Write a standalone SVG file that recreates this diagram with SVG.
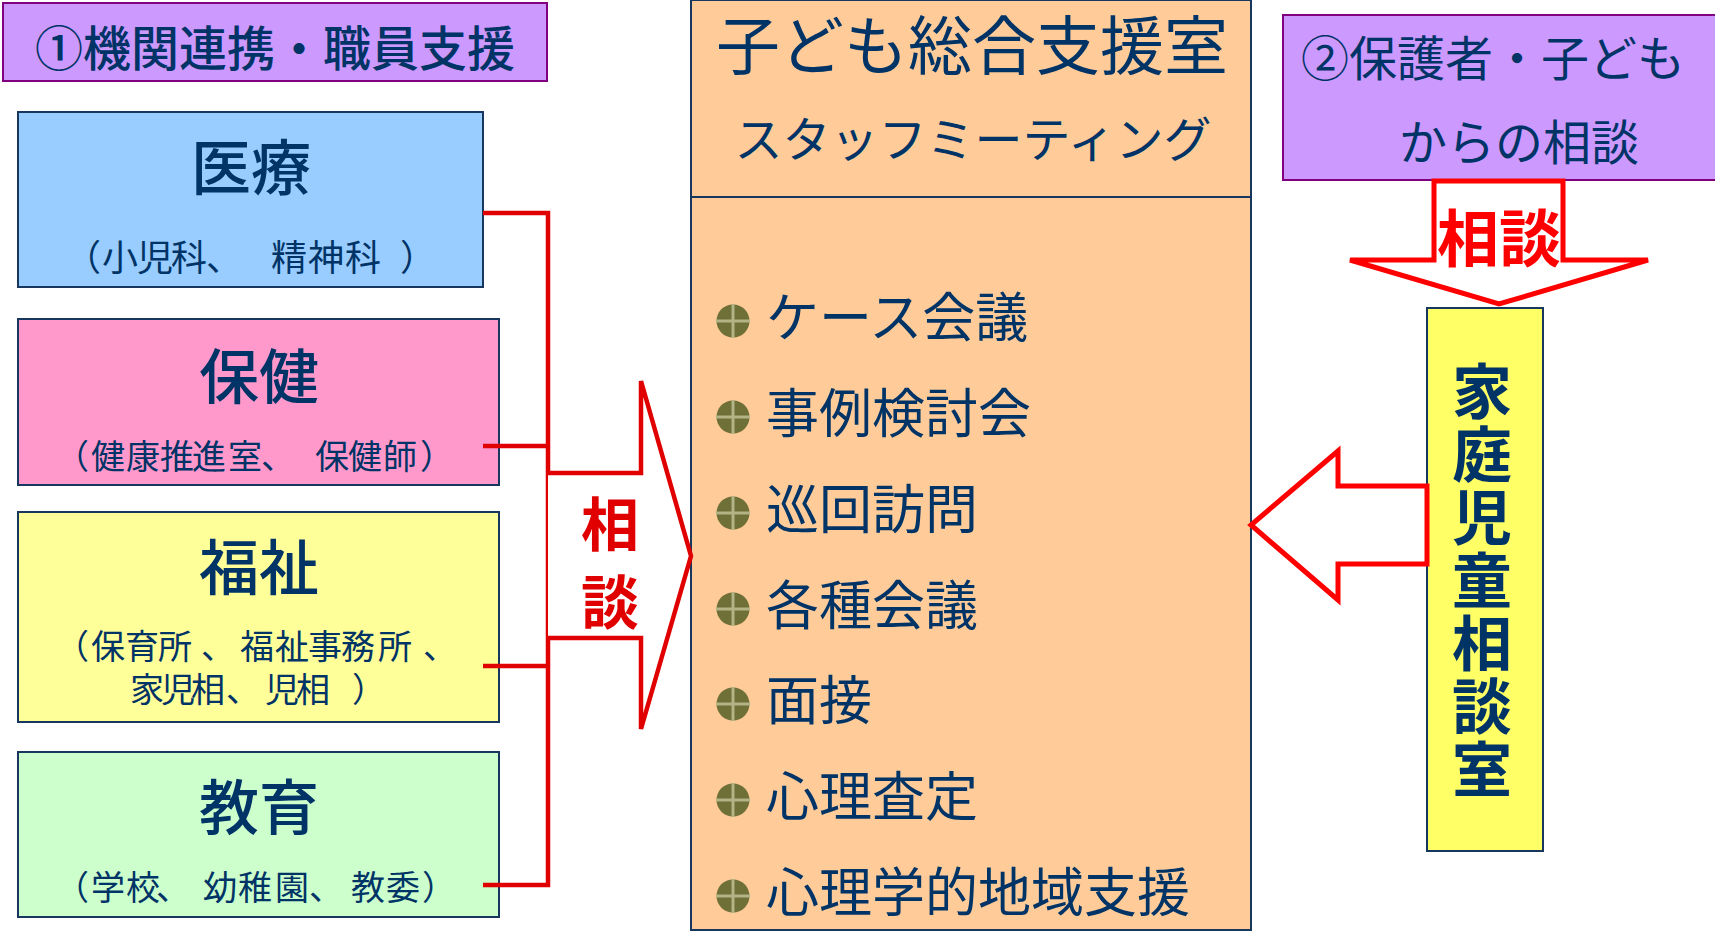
<svg xmlns="http://www.w3.org/2000/svg" xmlns:xlink="http://www.w3.org/1999/xlink" width="1715" height="933" viewBox="0 0 1715 933">
<defs>
<style>
.t{font-family:"Noto Sans CJK JP","Noto Sans",sans-serif;fill:#003366;}
.c{text-anchor:middle;}
.box{stroke:#17375E;stroke-width:2;}
.pbox{fill:#CC99FF;stroke:#800080;stroke-width:2;}
.title{font-size:60px;font-weight:500;}
.sub{font-size:34px;}
.item{font-size:53px;}
.red1{fill:none;stroke:#E00000;stroke-width:4.5;}
.red2{fill:#FFFFFF;stroke:#FF0000;stroke-width:5;}
</style>
<symbol id="bul" viewBox="-17 -17 34 34" overflow="visible">
<circle r="16.5" fill="#6F6F38"/>
<path d="M-17 0H17M0 -17V17" stroke="#B3B386" stroke-width="3"/>
</symbol>
</defs>
<rect width="1715" height="933" fill="#FFFFFF"/>

<g id="label-kikan">
<rect class="pbox" x="3" y="3" width="544" height="78"/>
<text class="t c" x="275" y="66" font-size="48" font-weight="500">①機関連携・職員支援</text>
</g>

<g id="node-iryo">
<rect class="box" x="18" y="112" width="465" height="175" fill="#99CCFF"/>
<text class="t c title" x="251" y="190">医療</text>
<text class="t" x="65 102 137 171 206 271 308 345 400" y="271" font-size="36">（小児科、精神科）</text>
</g>

<g id="node-hoken">
<rect class="box" x="18" y="319" width="481" height="166" fill="#FF99CC"/>
<text class="t c title" x="259" y="399">保健</text>
<text class="t sub" x="55 91 126 160 192 228 261 315 348 383 420" y="469">（健康推進室、保健師）</text>
</g>

<g id="node-fukushi">
<rect class="box" x="18" y="512" width="481" height="210" fill="#FFFF99"/>
<text class="t c title" x="259" y="590">福祉</text>
<text class="t sub" x="55 91 125 158 201 240 275 308 341 378 423" y="659">（保育所、福祉事務所、</text>
<text class="t sub" x="130 161 191 226 265 296 352" y="702">家児相、児相）</text>
</g>

<g id="node-kyoiku">
<rect class="box" x="18" y="752" width="481" height="165" fill="#CCFFCC"/>
<text class="t c title" x="259" y="830">教育</text>
<text class="t sub" x="55 91 126 156 203 238 275 309 351 386 422" y="900">（学校、幼稚園、教委）</text>
</g>

<g id="node-center">
<rect class="box" x="691" y="0" width="560" height="930" fill="#FFCC99"/>
<line x1="691" y1="197" x2="1251" y2="197" stroke="#17375E" stroke-width="2"/>
<text class="t c" x="972" y="69" font-size="64">子ども総合支援室</text>
<text class="t c" x="973" y="157" font-size="48">スタッフミーティング</text>
<use xlink:href="#bul" x="716" y="304" width="34" height="34"/>
<use xlink:href="#bul" x="716" y="400" width="34" height="34"/>
<use xlink:href="#bul" x="716" y="496" width="34" height="34"/>
<use xlink:href="#bul" x="716" y="592" width="34" height="34"/>
<use xlink:href="#bul" x="716" y="687" width="34" height="34"/>
<use xlink:href="#bul" x="716" y="783" width="34" height="34"/>
<use xlink:href="#bul" x="716" y="879" width="34" height="34"/>
<text class="t item" x="766" y="337">ケース会議</text>
<text class="t item" x="766" y="433">事例検討会</text>
<text class="t item" x="766" y="529">巡回訪問</text>
<text class="t item" x="766" y="625">各種会議</text>
<text class="t item" x="766" y="720">面接</text>
<text class="t item" x="766" y="816">心理査定</text>
<text class="t item" x="766" y="912">心理学的地域支援</text>
</g>

<g id="label-hogosha">
<rect class="pbox" x="1283" y="15" width="434" height="165"/>
<text class="t" x="1301" y="76" font-size="48">②保護者・子ども</text>
<text class="t" x="1399" y="160" font-size="48">からの相談</text>
</g>

<g id="node-katei">
<rect class="box" x="1427" y="308" width="116" height="543" fill="#FFFF66"/>
<text class="t" x="1482" y="361" font-size="60" font-weight="700" writing-mode="vertical-rl" letter-spacing="3">家庭児童相談室</text>
</g>

<g id="connectors">
<path class="red1" d="M483 213H548V885H483M483 446H548M483 666H548"/>
<path d="M548 473H641V381L691 556L641 729V638H548" fill="#FFFFFF" stroke="#E00000" stroke-width="4.5"/>
<text x="610" y="546" text-anchor="middle" font-family="Noto Sans CJK JP, sans-serif" font-size="58" font-weight="700" fill="#E00000">相</text>
<text x="610" y="624" text-anchor="middle" font-family="Noto Sans CJK JP, sans-serif" font-size="58" font-weight="700" fill="#E00000">談</text>
<path class="red2" d="M1434 181H1563V260H1648L1499 304L1350 260H1434Z"/>
<text x="1499" y="262" text-anchor="middle" font-family="Noto Sans CJK JP, sans-serif" font-size="62" font-weight="700" fill="#FF0000">相談</text>
<path class="red2" d="M1427 486H1338V451L1251 525L1338 600V564H1427Z"/>
</g>
</svg>
